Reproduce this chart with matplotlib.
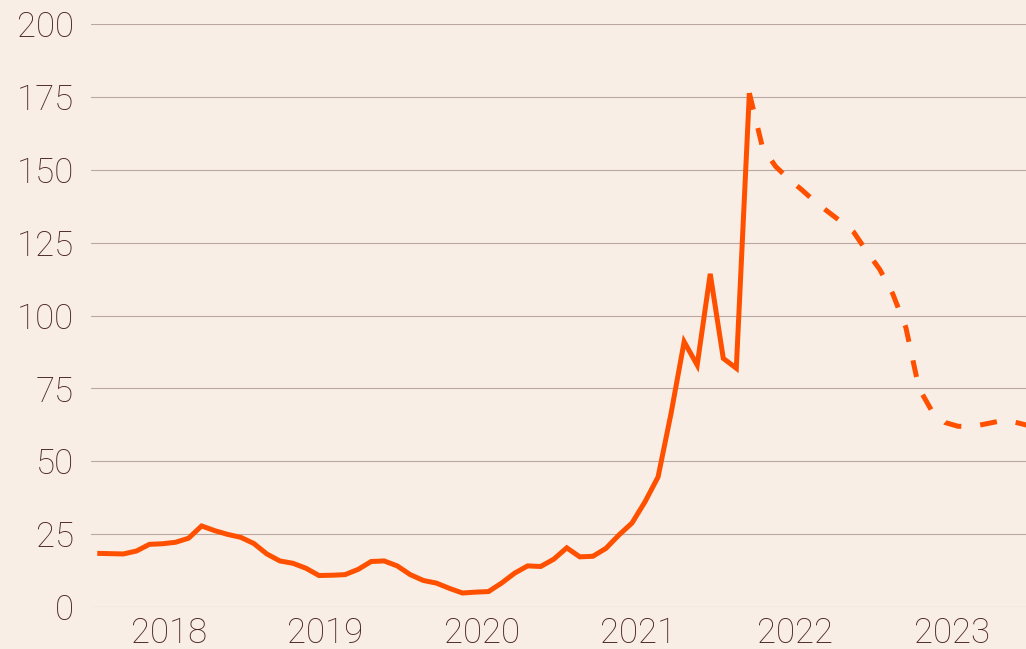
import matplotlib
matplotlib.use("Agg")
import matplotlib.pyplot as plt
import numpy as np

# Monthly data starting January 2018 (actual, solid)
actual_start = "2018-01"
actual_values = [18.4, 18.3, 18.2, 19.2, 21.5, 21.7, 22.2, 23.6, 27.8, 26.2, 24.9, 23.9,
                 21.8, 18.2, 15.8, 15.0, 13.3, 10.8, 10.9, 11.1, 12.9, 15.6, 15.8, 14.1,
                 11.1, 9.1, 8.2, 6.4, 4.8, 5.1, 5.3, 8.2, 11.6, 14.1, 13.9, 16.4,
                 20.3, 17.2, 17.4, 20.1, 24.7, 28.8, 36.1, 44.6, 66.5, 91.0, 83.0, 114.3,
                 85.3, 81.9, 176.3]
# Forecast (dashed), monthly starting March 2022
forecast_start = "2022-03"
forecast_values = [176.3, 157.8, 151.2, 146.9, 143.2, 139.2, 135.7, 132.3, 128.6, 122.0,
                   115.8, 107.4, 95.9, 75.1, 67.2, 63.3, 62.0, 61.9, 62.7, 63.6,
                   63.8, 62.7, 61.5]

year_labels = ["2018", "2019", "2020", "2021", "2022", "2023"]
y_ticks = [0, 25, 50, 75, 100, 125, 150, 175, 200]

BG = "#f9eee5"
LINE = "#ff5000"
TEXT = "#4a2622"
GRID = "#b9a7a0"


def month_x(start, n):
    y, m = map(int, start.split("-"))
    base = y + (m - 1) / 12.0
    return [base + (i + 0.5) / 12.0 for i in range(n)]


xa = month_x(actual_start, len(actual_values))
xf = month_x(forecast_start, len(forecast_values))

plt.rcParams['font.family'] = ['Roboto', 'DejaVu Sans']

fig = plt.figure(figsize=(10.26, 6.49), dpi=100, facecolor=BG)
W, H = 1026, 649
left, right = 90.75, 1026
top, bottom = 24, 607
ax = fig.add_axes([left / W, (H - bottom) / H, (right - left) / W, (bottom - top) / H])
ax.set_facecolor(BG)

ax.set_xlim(2018, 2018 + (right - left) / 156.5)
ax.set_ylim(0, 200)

for v in y_ticks:
    ax.axhline(v, color=GRID, lw=0.8, zorder=1)

ax.plot(xa, actual_values, color=LINE, lw=3.6, solid_joinstyle='miter',
        solid_capstyle='butt', zorder=3)
ax.plot(xf, forecast_values, color=LINE, lw=3.6, dashes=(3.4, 3.8),
        dash_capstyle='butt', dash_joinstyle='round', zorder=3)

ax.set_yticks(y_ticks)
ax.set_yticklabels([str(v) for v in y_ticks])
ax.set_xticks([int(y) + 0.5 for y in year_labels])
ax.set_xticklabels(year_labels)
ax.tick_params(axis='y', length=0, pad=12, labelsize=25, labelcolor=TEXT)
ax.tick_params(axis='x', length=0, pad=6.5, labelsize=25, labelcolor=TEXT)
for lab in ax.get_xticklabels() + ax.get_yticklabels():
    lab.set_fontweight('light')

for s in ax.spines.values():
    s.set_visible(False)

fig.savefig("out.png", dpi=100, facecolor=BG)
